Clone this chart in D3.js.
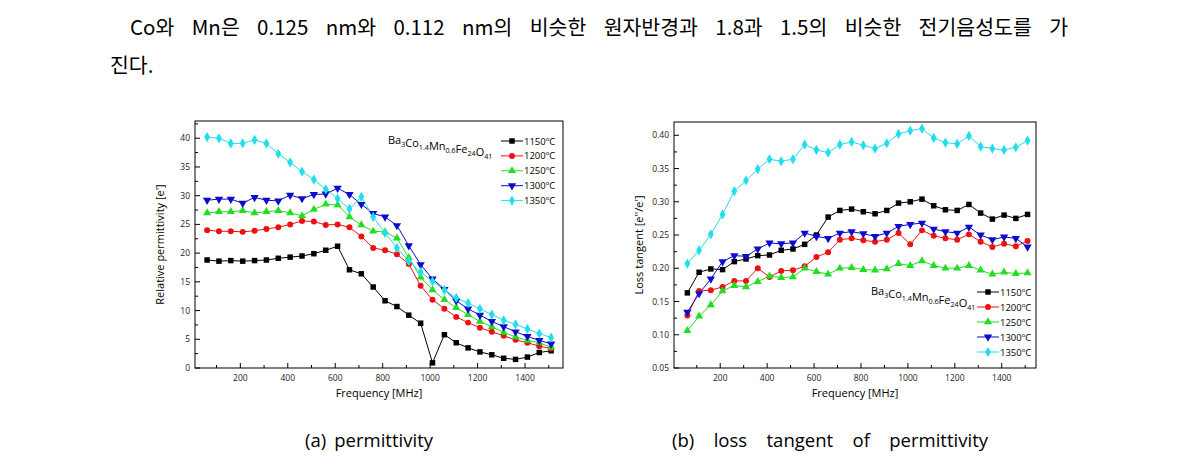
<!DOCTYPE html>
<html><head><meta charset="utf-8">
<script src="https://cdn.jsdelivr.net/npm/d3@7"></script>
<style>
body{margin:0;background:#fff;}
svg{display:block;}
</style></head>
<body>
<svg id="c" width="1190" height="464"></svg>
<script>
const freq = [60,110,160,210,260,310,360,410,460,510,560,610,660,710,760,810,860,910,960,1010,1060,1110,1160,1210,1260,1310,1360,1410,1460,1510];
const seriesNames = ["1150","1200","1250","1300","1350"];
// (a) relative permittivity
const perm1150 = [18.8,18.6,18.7,18.6,18.7,18.8,19.1,19.3,19.5,19.9,20.5,21.2,17.1,16.4,14.1,11.7,10.7,9.2,7.8,0.9,5.8,4.4,3.5,2.8,2.3,1.7,1.5,1.9,2.7,3.0];
const perm1200 = [24.0,23.8,23.8,23.7,23.9,24.2,24.5,25.0,25.6,25.5,24.9,25.0,24.5,22.9,20.9,20.5,19.8,18.1,14.3,11.9,10.3,8.9,7.9,7.0,6.3,5.6,4.9,4.4,3.8,3.4];
const perm1250 = [27.0,27.2,27.2,27.4,27.0,27.2,27.4,27.0,26.5,27.6,28.5,28.4,26.3,24.9,23.8,23.7,22.6,19.2,15.8,13.6,11.9,10.5,9.3,8.1,7.2,6.2,5.4,4.8,4.4,3.6];
const perm1300 = [29.2,29.4,29.4,28.7,29.7,29.2,29.1,30.1,29.5,30.2,30.3,31.3,30.2,28.5,26.9,26.3,24.8,21.3,18.0,15.5,13.7,11.7,10.3,9.2,8.1,7.2,6.3,5.5,4.8,4.2];
const perm1350 = [40.2,40.0,39.1,39.1,39.7,39.1,37.3,35.8,34.2,32.8,31.1,29.5,27.7,29.8,26.3,23.5,20.9,18.6,16.7,15.1,13.6,12.2,11.3,10.3,9.3,8.3,7.6,6.8,6.0,5.3];
// (b) loss tangent
const tan1150 = [0.163,0.194,0.199,0.198,0.210,0.214,0.219,0.220,0.227,0.229,0.236,0.250,0.277,0.287,0.289,0.285,0.282,0.287,0.298,0.300,0.304,0.294,0.288,0.287,0.296,0.283,0.274,0.280,0.275,0.281];
const tan1200 = [0.129,0.166,0.167,0.172,0.181,0.181,0.200,0.187,0.196,0.197,0.203,0.217,0.224,0.243,0.245,0.242,0.240,0.243,0.253,0.236,0.257,0.249,0.245,0.243,0.251,0.240,0.232,0.237,0.233,0.241];
const tan1250 = [0.106,0.128,0.145,0.166,0.174,0.172,0.180,0.188,0.186,0.187,0.200,0.195,0.191,0.200,0.201,0.198,0.197,0.199,0.207,0.204,0.211,0.204,0.200,0.200,0.204,0.197,0.191,0.194,0.192,0.193];
const tan1300 = [0.134,0.162,0.184,0.210,0.219,0.218,0.229,0.238,0.237,0.238,0.253,0.248,0.245,0.253,0.255,0.252,0.248,0.253,0.263,0.266,0.268,0.259,0.255,0.253,0.262,0.250,0.243,0.247,0.245,0.232];
const tan1350 = [0.207,0.227,0.251,0.281,0.316,0.332,0.349,0.364,0.361,0.364,0.386,0.378,0.374,0.386,0.390,0.385,0.380,0.388,0.402,0.407,0.410,0.396,0.389,0.387,0.399,0.383,0.380,0.378,0.382,0.392];
const xMajorTicks = [200,400,600,800,1000,1200,1400];
const permTicks = [0,5,10,15,20,25,30,35,40];
const tanTicks = [0.05,0.10,0.15,0.20,0.25,0.30,0.35,0.40];
const colors = ["#000000","#ee1111","#22dd22","#0b0bcc","#22ddee"];
const symbols = [d3.symbolSquare,d3.symbolCircle,d3.symbolTriangle,"down",d3.symbolDiamond];

const svg = d3.select("#c");
const FONT = "'Open Sans','Liberation Sans',sans-serif";

function fitWords(t, target, sx){
  const spaces = (t.text().match(/ /g)||[]).length;
  const w = t.node().getComputedTextLength()*sx;
  if (spaces>0) t.attr("word-spacing", ((target - w)/spaces)/sx);
}

// Korean paragraph (justified)
const p1 = svg.append("text").attr("x",130).attr("y",35).attr("font-family","'Noto Sans CJK KR'").attr("font-size",20.5).attr("fill","#000")
  .text("Co와 Mn은 0.125 nm와 0.112 nm의 비슷한 원자반경과 1.8과 1.5의 비슷한 전기음성도를 가");
fitWords(p1, 938, 1);
svg.append("text").attr("x",110).attr("y",73).attr("font-family","'Noto Sans CJK KR'").attr("font-size",20.5)
  .attr("fill","#000").text("진다.");

function degLabel(sel, t){
  sel.append("tspan").text(t);
  sel.append("tspan").attr("font-size","6px").attr("dy",-4).text("o");
  sel.append("tspan").attr("dy",4).text("C");
}
function formula(g, x, y, fs){
  const t = g.append("text").attr("x",x).attr("y",y).attr("font-family",FONT).attr("font-size",fs).attr("fill","#000");
  const parts = [["Ba","3"],["Co","1.4"],["Mn","0.6"],["Fe","24"],["O","41"]];
  parts.forEach(p=>{
    t.append("tspan").text(p[0]);
    t.append("tspan").attr("font-size",(fs*0.65)+"px").attr("dy",3).text(p[1]);
    t.append("tspan").attr("dy",-3).text("");
  });
}
function drawSym(g, i, x, y, c){
  if (symbols[i]==="down"){
    g.append("path").attr("d",d3.symbol(d3.symbolTriangle,30)()).attr("transform",`translate(${x},${y}) rotate(180)`).attr("fill",c);
  } else {
    const size = i===0?30:(i===4?30:28);
    g.append("path").attr("d",d3.symbol(symbols[i],size)()).attr("transform",`translate(${x},${y})`).attr("fill",c);
  }
}

function panel(cfg){
  const {x0,x1,y0,y1,xDom,yDom,yTicks,yMinor,data,ylabel,fmt,legend} = cfg;
  const x = d3.scaleLinear().domain(xDom).range([x0,x1]);
  const y = d3.scaleLinear().domain(yDom).range([y1,y0]);
  const g = svg.append("g");
  g.append("rect").attr("x",x0).attr("y",y0).attr("width",x1-x0).attr("height",y1-y0).attr("fill","none").attr("stroke","#000").attr("stroke-width",1);
  const xMinor = d3.range(100,1600,100).filter(v=>v>xDom[0]&&v<xDom[1]);
  xMinor.forEach(v=>{
    const major = xMajorTicks.includes(v);
    g.append("line").attr("x1",x(v)).attr("x2",x(v)).attr("y1",y1).attr("y2",y1-(major?5:3)).attr("stroke","#000");
  });
  xMajorTicks.forEach(v=>{
    g.append("text").attr("x",x(v)).attr("y",y1+13).attr("text-anchor","middle").attr("font-family",FONT).attr("font-size",8.5).attr("fill","#222").text(v);
  });
  yMinor.forEach(v=>{
    g.append("line").attr("x1",x0).attr("x2",x0+3).attr("y1",y(v)).attr("y2",y(v)).attr("stroke","#000");
  });
  yTicks.forEach(v=>{
    g.append("line").attr("x1",x0).attr("x2",x0+5).attr("y1",y(v)).attr("y2",y(v)).attr("stroke","#000");
    g.append("text").attr("x",x0-5).attr("y",y(v)+3).attr("text-anchor","end").attr("font-family",FONT).attr("font-size",8.5).attr("fill","#222").text(fmt(v));
  });
  g.append("text").attr("x",(x0+x1)/2).attr("y",y1+29).attr("text-anchor","middle").attr("font-family",FONT).attr("font-size",11).text("Frequency [MHz]");
  g.append("text").attr("transform",`translate(${x0-31},${(y0+y1)/2}) rotate(-90)`).attr("text-anchor","middle").attr("font-family",FONT).attr("font-size",11).text(ylabel);
  const line = d3.line().x((d,i)=>x(freq[i])).y(d=>y(d));
  data.forEach((s,k)=>{
    g.append("path").attr("d",line(s)).attr("fill","none").attr("stroke",colors[k]).attr("stroke-width",1);
  });
  data.forEach((s,k)=>{
    s.forEach((v,i)=>drawSym(g,k,x(freq[i]),y(v),colors[k]));
  });
  formula(g, legend.fx, legend.fy, 11);
  seriesNames.forEach((n,k)=>{
    const ly = legend.ly + k*legend.dy;
    g.append("line").attr("x1",legend.lx).attr("x2",legend.lx+22).attr("y1",ly).attr("y2",ly).attr("stroke",colors[k]);
    drawSym(g,k,legend.lx+11,ly,colors[k]);
    const t = g.append("text").attr("x",legend.lx+23).attr("y",ly+3.5).attr("font-family",FONT).attr("font-size",9.5).attr("fill","#000");
    degLabel(t,n);
  });
}

panel({x0:195,x1:563,y0:121,y1:368,xDom:[9,1560],yDom:[0,43],yTicks:permTicks,
  yMinor:d3.range(2.5,43,5),data:[perm1150,perm1200,perm1250,perm1300,perm1350],
  ylabel:"Relative permittivity [e']",fmt:d3.format("d"),
  legend:{fx:388,fy:144,lx:501,ly:141,dy:14.9}});
panel({x0:674,x1:1036,y0:122,y1:368,xDom:[3,1546],yDom:[0.05,0.42],yTicks:tanTicks,
  yMinor:d3.range(0.075,0.42,0.05),data:[tan1150,tan1200,tan1250,tan1300,tan1350],
  ylabel:"Loss tangent [e''/e']",fmt:d3.format(".2f"),
  legend:{fx:871,fy:295,lx:977,ly:292,dy:15}});

// captions
const capA = svg.append("text").attr("x",305).attr("y",447).attr("font-family",FONT).attr("font-size",18.5).text("(a) permittivity");
fitWords(capA, 128, 1);
const capB = svg.append("text").attr("x",672).attr("y",447).attr("font-family",FONT).attr("font-size",18.5).text("(b) loss tangent of permittivity");
fitWords(capB, 316, 1);
</script>
</body></html>
